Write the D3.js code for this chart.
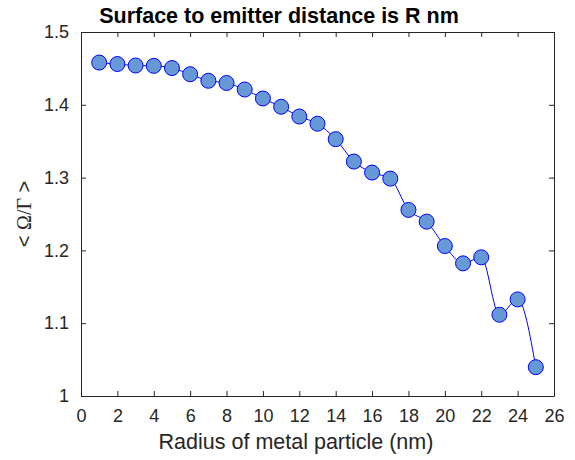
<!DOCTYPE html>
<html>
<head>
<meta charset="utf-8">
<script src="https://cdn.jsdelivr.net/npm/d3@7"></script>
<style>
  body { margin: 0; background: #fff; }
  text { font-family: "Liberation Sans", Arial, sans-serif; fill: #262626; }
</style>
</head>
<body>
<svg id="chart" width="575" height="460"></svg>
<script>
// radius of metal particle (nm)
const radius = [1, 2, 3, 4, 5, 6, 7, 8, 9, 10, 11, 12, 13, 14, 15, 16, 17, 18, 19, 20, 21, 22, 23, 24, 25];
// < Omega / Gamma >
const ratio = [1.458, 1.456, 1.454, 1.4535, 1.4505, 1.442, 1.433, 1.430, 1.421, 1.4087, 1.3973, 1.3839, 1.374,
  1.3528, 1.322, 1.3069, 1.2986, 1.2556, 1.2395, 1.206, 1.1822, 1.1905, 1.1116, 1.1327, 1.0396];
const xTicks = d3.range(0, 27, 2);
const yTicks = [1, 1.1, 1.2, 1.3, 1.4, 1.5];

const data = radius.map((r, i) => ({ r, v: ratio[i] }));

const svg = d3.select("#chart");
const margin = { top: 32, right: 21, bottom: 64, left: 81 };
const width = 575, height = 460;

const x = d3.scaleLinear().domain([0, 26]).range([margin.left, width - margin.right]);
const y = d3.scaleLinear().domain([1, 1.5]).range([height - margin.bottom, margin.top]);

const tickLen = 5;

// axes (box with inward ticks, like matlab)
const xAxis = (g) => g
  .attr("transform", `translate(0,${height - margin.bottom})`)
  .call(d3.axisBottom(x).tickValues(xTicks).tickSizeInner(-tickLen).tickSizeOuter(0).tickPadding(13))
  .call(g => g.selectAll("text").style("font-size", "18px"));

const xTop = (g) => g
  .attr("transform", `translate(0,${margin.top})`)
  .call(d3.axisTop(x).tickValues(xTicks).tickSizeInner(-tickLen).tickSizeOuter(0).tickFormat(""));

const yAxis = (g) => g
  .attr("transform", `translate(${margin.left},0)`)
  .call(d3.axisLeft(y).tickValues(yTicks).tickSizeInner(-tickLen).tickSizeOuter(0).tickPadding(12).tickFormat(d3.format("~g")))
  .call(g => g.selectAll("text").style("font-size", "18px"));

const yRight = (g) => g
  .attr("transform", `translate(${width - margin.right},0)`)
  .call(d3.axisRight(y).tickValues(yTicks).tickSizeInner(-tickLen).tickSizeOuter(0).tickFormat(""));

svg.append("g").call(xAxis);
svg.append("g").call(xTop);
svg.append("g").call(yAxis);
svg.append("g").call(yRight);

svg.selectAll(".domain").attr("stroke", "#262626");
svg.selectAll(".tick line").attr("stroke", "#262626");
svg.selectAll(".tick text").attr("fill", "#262626");

// line through the points
const line = d3.line()
  .x(d => x(d.r))
  .y(d => y(d.v))
  .curve(d3.curveMonotoneX);

svg.append("path")
  .datum(data)
  .attr("fill", "none")
  .attr("stroke", "#0000ff")
  .attr("stroke-width", 1)
  .attr("d", line);

svg.append("g")
  .selectAll("circle")
  .data(data)
  .join("circle")
  .attr("cx", d => x(d.r))
  .attr("cy", d => y(d.v))
  .attr("r", 7.5)
  .attr("fill", "#6699d6")
  .attr("stroke", "#0000ff")
  .attr("stroke-width", 1);

// title
svg.append("text")
  .attr("x", 279)
  .attr("y", 23)
  .attr("text-anchor", "middle")
  .style("font-size", "21.5px")
  .style("font-weight", "bold")
  .style("fill", "#000")
  .text("Surface to emitter distance is R nm");

// x label
svg.append("text")
  .attr("x", 296)
  .attr("y", 449)
  .attr("text-anchor", "middle")
  .style("font-size", "21.5px")
  .text("Radius of metal particle (nm)");

// y label
const yl = svg.append("text")
  .attr("transform", `translate(31,${(margin.top + height - margin.bottom) / 2}) rotate(-90)`)
  .attr("text-anchor", "middle")
  .style("font-size", "20px");
yl.append("tspan").text("< ");
yl.append("tspan").style("font-family", "'Liberation Serif', 'Times New Roman', serif").text("Ω/Γ");
yl.append("tspan").text(" >");
</script>
</body>
</html>
